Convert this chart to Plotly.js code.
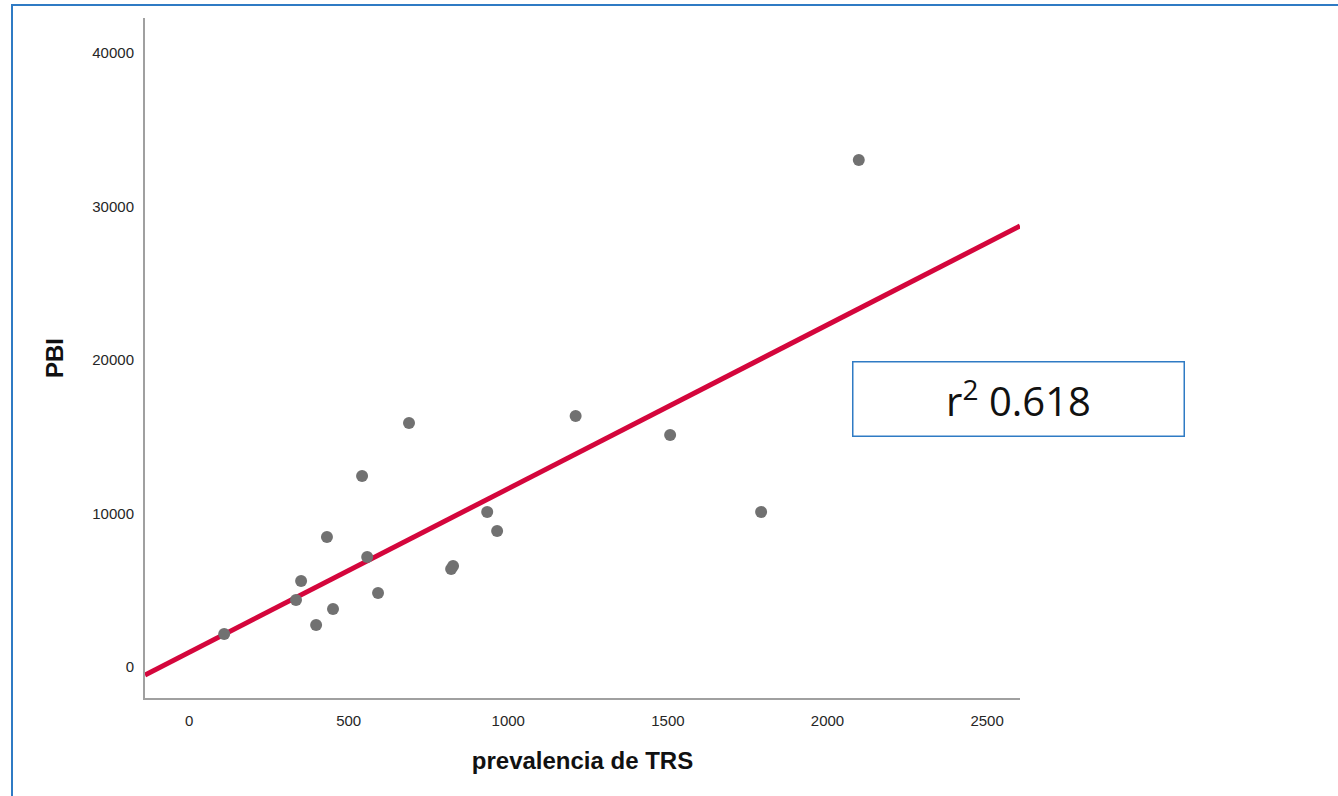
<!DOCTYPE html>
<html>
<head>
<meta charset="utf-8">
<script src="https://cdn.plot.ly/plotly-3.0.1.min.js"></script>
<style>
  html, body { margin: 0; padding: 0; background: #ffffff; }
  #wrap { position: relative; width: 1338px; height: 796px; overflow: hidden; }
  #chart { position: absolute; left: 0; top: 0; width: 1338px; height: 796px; }
  #frame { position: absolute; left: 11px; top: 4px; width: 1400px; height: 900px;
           border-top: 2px solid #2f7bc4; border-left: 2px solid #2f7bc4; pointer-events: none; }
</style>
</head>
<body>
<div id="wrap">
  <div id="chart"></div>
  <div id="frame"></div>
</div>
<script>
// prevalencia de TRS (x) and PBI (y)
const prevalencia = [110, 335, 351, 398, 432, 451, 542, 558, 592, 689, 821, 827, 934, 965, 1211, 1507, 1792, 2098];
const pbi =         [2150, 4365, 5600, 2736, 8470, 3780, 12440, 7166, 4821, 15900, 6384, 6580, 10100, 8860, 16350, 15110, 10100, 33030];

// fitted regression line end points
const fitX = [-138, 2603];
const fitY = [-521, 28730];

const xTicks = [0, 500, 1000, 1500, 2000, 2500];
const yTicks = [0, 10000, 20000, 30000, 40000];
const r2Label = 'r<sup>2</sup> 0.618';

const data = [
  {
    x: fitX, y: fitY, type: 'scatter', mode: 'lines',
    line: { color: '#d4063c', width: 5 },
    hoverinfo: 'skip', showlegend: false, cliponaxis: false
  },
  {
    x: prevalencia, y: pbi, type: 'scatter', mode: 'markers',
    marker: { color: '#717171', size: 12, line: { width: 0 } },
    showlegend: false
  }
];

const layout = {
  width: 1338, height: 796,
  margin: { l: 145, r: 318, t: 18, b: 98 },
  paper_bgcolor: '#ffffff', plot_bgcolor: '#ffffff',
  font: { family: 'Liberation Sans, Arial, sans-serif', color: '#222222' },
  xaxis: {
    range: [-138, 2603],
    tickvals: xTicks, ticktext: xTicks.map(String),
    showgrid: false, zeroline: false,
    showline: true, linecolor: '#a0a0a0', linewidth: 2,
    ticks: '', ticklabelstandoff: 8,
    tickfont: { size: 15, color: '#262626' },
    title: { text: 'prevalencia de TRS', standoff: 24,
             font: { size: 24, color: '#111111', family: 'Liberation Sans, Arial, sans-serif', weight: 'bold' } }
  },
  yaxis: {
    range: [-2020, 42280],
    tickvals: yTicks, ticktext: yTicks.map(String),
    showgrid: false, zeroline: false,
    showline: true, linecolor: '#a0a0a0', linewidth: 2,
    ticks: '', ticklabelstandoff: 6,
    tickfont: { size: 15, color: '#262626' },
    title: { text: 'PBI', standoff: 22,
             font: { size: 24, color: '#111111', family: 'Liberation Sans, Arial, sans-serif', weight: 'bold' } }
  },
  annotations: [
    {
      x: 2597, y: 17490, xref: 'x', yref: 'y',
      xanchor: 'center', yanchor: 'middle',
      text: r2Label, showarrow: false,
      width: 330, height: 73,
      bordercolor: '#2f7bc4', borderwidth: 1.5, borderpad: 0,
      bgcolor: '#ffffff',
      font: { family: 'Open Sans, sans-serif', size: 40, color: '#111111' }
    }
  ]
};

Plotly.newPlot('chart', data, layout, { displayModeBar: false, staticPlot: true });
</script>
</body>
</html>
